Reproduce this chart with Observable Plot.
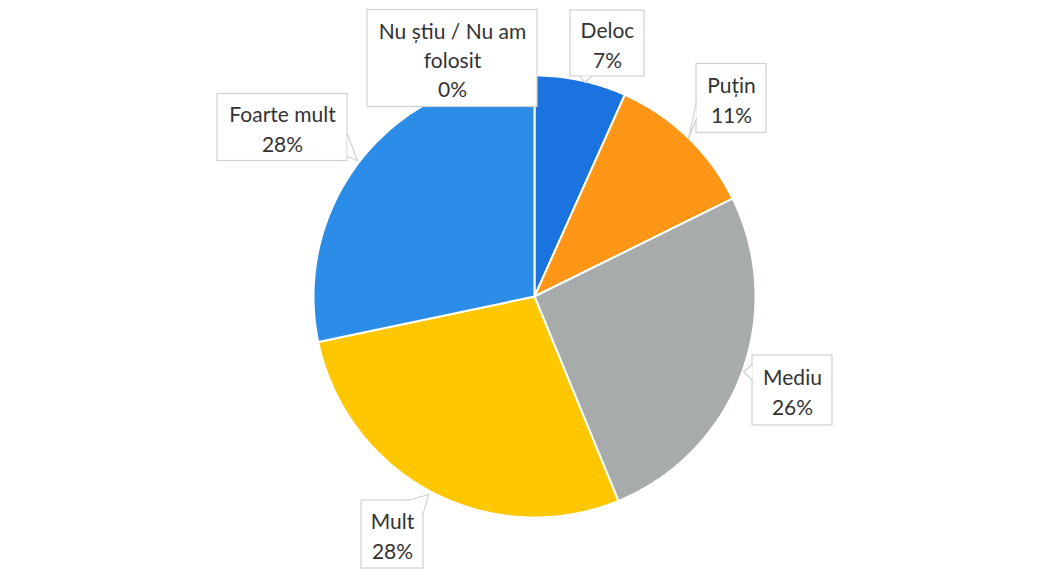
<!DOCTYPE html>
<html>
<head>
<meta charset="utf-8">
<script src="https://cdn.jsdelivr.net/npm/d3@7"></script>
<script src="https://cdn.jsdelivr.net/npm/@observablehq/plot@0.6"></script>
<style>
  html, body { margin: 0; padding: 0; background: #ffffff; }
  #chart { width: 1047px; height: 575px; }
</style>
</head>
<body>
<div id="chart"></div>
<script>
// ---- data ----
const categories = ["Deloc", "Puțin", "Mediu", "Mult", "Foarte mult", "Nu știu / Nu am folosit"];
const values = [6.7, 11.0, 26.1, 27.9, 28.3, 0];
const percentLabels = ["7%", "11%", "26%", "28%", "28%", "0%"];
const labelLines = ["Deloc", "Puțin", "Mediu", "Mult", "Foarte mult", "Nu știu / Nu am\nfolosit"];
const colors = ["#1b73e0", "#ff9615", "#a8abab", "#ffc700", "#2b8de8", "#7f7f7f"];

// ---- layout (pixels) ----
const W = 1047, H = 575;
const cx = 534, cy = 296, R = 221;
// label box centre, width, height
const labelBoxes = [
  {cx: 607, cy: 43, w: 74, h: 66},
  {cx: 731, cy: 98, w: 70, h: 69},
  {cx: 792, cy: 390, w: 80, h: 70},
  {cx: 392, cy: 534, w: 62, h: 68},
  {cx: 282, cy: 127, w: 130, h: 67},
  {cx: 452, cy: 58, w: 170, h: 97}
];
// callout tails: base point a, tip, base point b
const tails = [
  [[580, 76], [584, 82], [591, 76]],
  [[696, 102], [688, 138], [696, 118]],
  [[752, 364], [743, 371], [752, 380]],
  [[407, 500], [428, 494], [423, 512]],
  [[347, 134], [357, 160], [347, 156]],
  null
];

// ---- pie geometry from data ----
const arcs = d3.pie().sort(null).value(d => d)(values);
const slicePts = [];
arcs.forEach((a, i) => {
  if (a.endAngle - a.startAngle <= 0) return;
  const cat = categories[i];
  slicePts.push({cat, x: cx, y: cy});
  const n = Math.max(2, Math.ceil((a.endAngle - a.startAngle) / 0.01));
  for (let k = 0; k <= n; k++) {
    const t = a.startAngle + (a.endAngle - a.startAngle) * k / n;
    slicePts.push({cat, x: cx + R * Math.sin(t), y: cy - R * Math.cos(t)});
  }
  slicePts.push({cat, x: cx, y: cy});
});

const boxes = labelBoxes.map((b, i) => ({
  cat: categories[i],
  x1: b.cx - b.w / 2, x2: b.cx + b.w / 2,
  y1: b.cy - b.h / 2, y2: b.cy + b.h / 2
}));
const tailPts = [];
tails.forEach((t, i) => {
  if (!t) return;
  t.forEach(p => tailPts.push({cat: categories[i], x: p[0], y: p[1]}));
});
const texts = labelBoxes.map((b, i) => ({
  x: b.cx, y: b.cy, text: labelLines[i] + "\n" + percentLabels[i]
}));

const plot = Plot.plot({
  width: W,
  height: H,
  margin: 0,
  x: {domain: [0, W], range: [0, W], axis: null},
  y: {domain: [0, H], range: [0, H], axis: null},
  color: {domain: categories, range: colors},
  style: {fontFamily: "Lato, 'Open Sans', sans-serif", background: "white"},
  marks: [
    Plot.line(slicePts, {x: "x", y: "y", z: "cat", fill: "cat", stroke: "white", strokeWidth: 2, curve: "linear"}),
    Plot.rect(boxes, {x1: "x1", x2: "x2", y1: "y1", y2: "y2", fill: "white", stroke: "#cfd2d2", strokeWidth: 1.2}),
    Plot.line(tailPts, {x: "x", y: "y", z: "cat", fill: "white", stroke: "#cfd2d2", strokeWidth: 1.2, curve: "linear"}),
    Plot.text(texts, {x: "x", y: "y", text: "text", fontSize: 21, lineHeight: 1.4, fill: "#333333", textAnchor: "middle"})
  ]
});
document.getElementById("chart").appendChild(plot);
</script>
</body>
</html>
